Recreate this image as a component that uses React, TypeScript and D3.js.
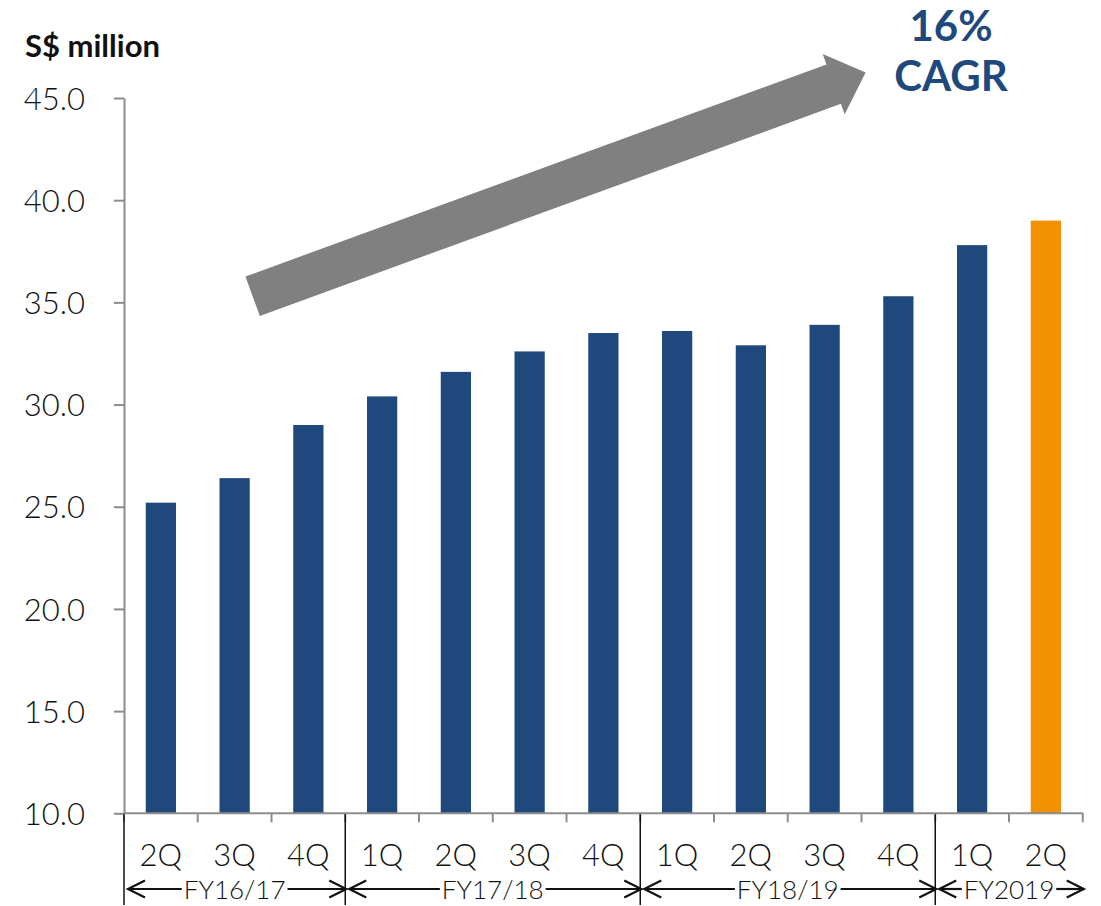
import * as d3 from "d3";
import React, { useRef, useEffect } from "react";

const quarters = ["2Q", "3Q", "4Q", "1Q", "2Q", "3Q", "4Q", "1Q", "2Q", "3Q", "4Q", "1Q", "2Q"];
const fiscalYears = ["FY16/17", "FY17/18", "FY18/19", "FY2019"];
const quarterYear = [0, 0, 0, 1, 1, 1, 1, 2, 2, 2, 2, 3, 3];
const revenue = [25.2, 26.4, 29.0, 30.4, 31.6, 32.6, 33.5, 33.6, 32.9, 33.9, 35.3, 37.8, 39.0];
const yTicks = [10, 15, 20, 25, 30, 35, 40, 45];
const highlightIndex = 12;
const cagrLines = ["16%", "CAGR"];

const FONT = "Lato, 'Open Sans', sans-serif";
const NAVY = "#1F497D";
const ORANGE = "#F29100";

function App() {
    const svgRef = useRef(null);

    useEffect(() => {
        const w = 1101;
        const h = 906;
        const left = 124, right = 1082.75, top = 98, bottom = 813.3;

        const svg = d3.select(svgRef.current)
            .attr("width", w)
            .attr("height", h);
        svg.selectAll("*").remove();

        // scales
        const x = d3.scaleBand()
            .domain(d3.range(quarters.length))
            .range([left, right])
            .paddingInner(0.59)
            .paddingOuter(0.295);

        const y = d3.scaleLinear()
            .domain([10, 45])
            .range([bottom, top]);

        const step = x.step();
        const edge = i => x(i) - step * x.paddingInner() / 2;

        // y axis
        const yAxis = d3.axisLeft(y)
            .tickValues(yTicks)
            .tickFormat(d3.format(".1f"))
            .tickSize(10)
            .tickSizeOuter(0)
            .tickPadding(29);

        const gy = svg.append("g")
            .attr("transform", `translate(${left},0)`)
            .call(yAxis);
        gy.select(".domain").attr("stroke", "#8c8c8c").attr("stroke-width", 2);
        gy.selectAll(".tick line").attr("stroke", "#8c8c8c").attr("stroke-width", 2);
        gy.selectAll(".tick text")
            .attr("font-family", FONT)
            .attr("font-size", 31)
            .attr("font-weight", 300)
            .attr("fill", "#111")
            .attr("dy", "0.36em");

        svg.append("text")
            .attr("x", 25)
            .attr("y", 57)
            .attr("font-family", FONT)
            .attr("font-size", 31)
            .attr("font-weight", 700)
            .attr("fill", "#111")
            .text("S$ million");

        // bars
        svg.selectAll(".bar")
            .data(revenue)
            .join("rect")
            .attr("class", "bar")
            .attr("x", (d, i) => x(i))
            .attr("y", d => y(d))
            .attr("width", x.bandwidth())
            .attr("height", d => y(10) - y(d))
            .attr("fill", (d, i) => i === highlightIndex ? ORANGE : NAVY);

        // x axis line and boundary ticks
        svg.append("line")
            .attr("x1", left).attr("x2", right)
            .attr("y1", bottom).attr("y2", bottom)
            .attr("stroke", "#8c8c8c").attr("stroke-width", 2);

        const bounds = d3.range(quarters.length + 1).map(i => i < quarters.length ? edge(i) : right);
        svg.selectAll(".xtick")
            .data(bounds)
            .join("line")
            .attr("x1", d => d).attr("x2", d => d)
            .attr("y1", bottom).attr("y2", bottom + 9)
            .attr("stroke", "#8c8c8c").attr("stroke-width", 2);

        // quarter labels
        svg.selectAll(".qlabel")
            .data(quarters)
            .join("text")
            .attr("x", (d, i) => x(i) + x.bandwidth() / 2)
            .attr("y", 866)
            .attr("text-anchor", "middle")
            .attr("font-family", FONT)
            .attr("font-size", 31)
            .attr("font-weight", 300)
            .attr("fill", "#111")
            .text(d => d);

        // fiscal year groups
        const groups = fiscalYears.map((fy, g) => {
            const idx = quarterYear.map((q, i) => q === g ? i : -1).filter(i => i >= 0);
            const x0 = edge(idx[0]);
            const last = idx[idx.length - 1];
            const x1 = last + 1 < quarters.length ? edge(last + 1) : right;
            return { fy, x0, x1 };
        });

        svg.selectAll(".sep")
            .data(groups)
            .join("line")
            .attr("x1", d => d.x0).attr("x2", d => d.x0)
            .attr("y1", bottom + 1).attr("y2", 905)
            .attr("stroke", "#111").attr("stroke-width", 1.5);

        const arrowY = 889;
        groups.forEach(gr => {
            const cx = (gr.x0 + gr.x1) / 2;
            const t = svg.append("text")
                .attr("x", cx)
                .attr("y", 899)
                .attr("text-anchor", "middle")
                .attr("font-family", FONT)
                .attr("font-size", 26)
                .attr("font-weight", 300)
                .attr("fill", "#111")
                .text(gr.fy);
            const tw = t.node().getComputedTextLength();
            const a = gr.x0 + 4;
            const b = gr.x1 + 1;
            const g = svg.append("g")
                .attr("stroke", "#111")
                .attr("stroke-width", 2.2)
                .attr("fill", "none");
            g.append("line").attr("x1", a).attr("x2", cx - tw / 2 - 2).attr("y1", arrowY).attr("y2", arrowY);
            g.append("line").attr("x1", cx + tw / 2 + 2).attr("x2", b).attr("y1", arrowY).attr("y2", arrowY);
            g.append("path").attr("d", `M${a + 17},${arrowY - 8.5}L${a},${arrowY}L${a + 17},${arrowY + 8.5}`);
            g.append("path").attr("d", `M${b - 17},${arrowY - 8.5}L${b},${arrowY}L${b - 17},${arrowY + 8.5}`);
        });

        // growth arrow
        const tail = [x(1) + x.bandwidth() / 2 + 18, y(35.3)];
        const tip = [x(9) + x.bandwidth() / 2 + 41, y(46.25)];
        const dx = tip[0] - tail[0], dy = tip[1] - tail[1];
        const len = Math.hypot(dx, dy);
        const ux = dx / len, uy = dy / len;
        const px = -uy, py = ux;
        const shaftW = 42, headW = 64, headL = 34;
        const base = [tip[0] - ux * headL, tip[1] - uy * headL];
        const pt = (p, s) => [p[0] + px * s, p[1] + py * s];
        const poly = [
            pt(tail, -shaftW / 2), pt(base, -shaftW / 2), pt(base, -headW / 2),
            tip,
            pt(base, headW / 2), pt(base, shaftW / 2), pt(tail, shaftW / 2)
        ];
        svg.append("path")
            .attr("d", d3.line()(poly) + "Z")
            .attr("fill", "#808080");

        svg.selectAll(".cagr")
            .data(cagrLines)
            .join("text")
            .attr("x", 951)
            .attr("y", (d, i) => 41 + i * 50)
            .attr("text-anchor", "middle")
            .attr("font-family", FONT)
            .attr("font-size", 42)
            .attr("font-weight", 700)
            .attr("fill", NAVY)
            .text(d => d);
    }, []);

    return (
        <div className="RevenueChart">
            <svg ref={svgRef} style={{ position: "absolute", left: 0, top: 0, background: "#fff" }}></svg>
        </div>
    );
}

export default App;
